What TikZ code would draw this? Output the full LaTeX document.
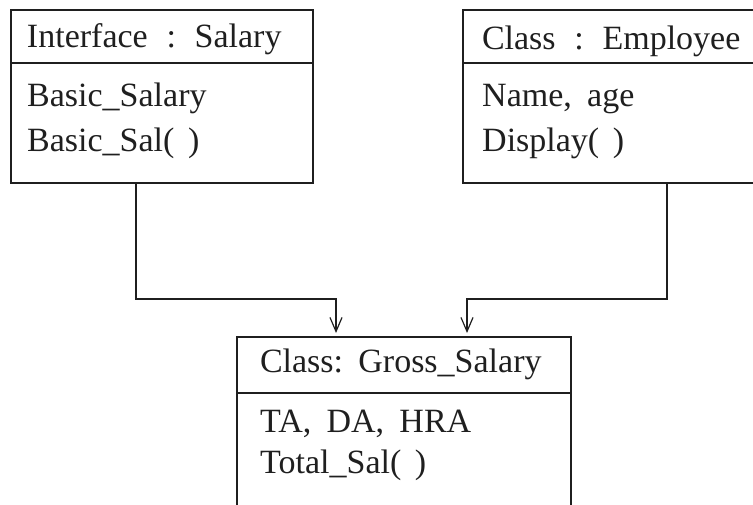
\documentclass[tikz,border=0pt]{standalone}
\usepackage{fontspec}
\setmainfont{Liberation Serif}
\usetikzlibrary{arrows.meta, positioning}

\begin{document}
\begin{tikzpicture}[
    x=1pt, y=1pt,
    font=\fontsize{34}{40}\selectfont,
    every node/.style={text=black!88},
    classhead/.style={rectangle, draw=black!88, line width=1.2pt, outer sep=0pt, inner ysep=0pt, anchor=north west, align=left},
    classbody/.style={rectangle, draw=black!88, line width=1.2pt, outer sep=0pt, inner sep=0pt},
    member/.style={anchor=base west, inner sep=0pt},
    link/.style={draw=black!88, line width=1.2pt, -{Straight Barb[length=14pt, width=12pt, line width=1.2pt]}, shorten >=4pt}
]
\path[use as bounding box, clip] (0,0) rectangle (753,-504);

\node (salhead) [classhead, inner xsep=16pt, text width=270pt, text height=37pt, text depth=16pt] at (11,-10) {Interface\hspace{0.55em}:\hspace{0.55em}Salary};
\node (salbody) [classbody, below=0pt of salhead, minimum width=302pt, minimum height=120pt] {};
\node (salattr) [member] at ([shift={(16,-43)}]salbody.north west) {Basic\_Salary};
\node (salop) [member] at ([shift={(16,-88)}]salbody.north west) {Basic\_Sal(\hspace{0.4em})};

\node (emphead) [classhead, inner xsep=19pt, text width=282pt, text height=39pt, text depth=14pt] at (463,-10) {Class\hspace{0.55em}:\hspace{0.55em}Employee};
\node (empbody) [classbody, below=0pt of emphead, minimum width=320pt, minimum height=120pt] {};
\node (empattr) [member] at ([shift={(19,-43)}]empbody.north west) {Name,\hspace{0.45em}age};
\node (empop) [member] at ([shift={(19,-88)}]empbody.north west) {Display(\hspace{0.4em})};

\node (grosshead) [classhead, inner xsep=23pt, text width=288pt, text height=35pt, text depth=21pt] at (237,-337) {Class:\hspace{0.45em}Gross\_Salary};
\node (grossbody) [classbody, below=0pt of grosshead, minimum width=334pt, minimum height=130pt] {};
\node (grossattr) [member] at ([shift={(23,-39)}]grossbody.north west) {TA,\hspace{0.45em}DA,\hspace{0.45em}HRA};
\node (grossop) [member] at ([shift={(23,-80)}]grossbody.north west) {Total\_Sal(\hspace{0.4em})};

\draw [link] ([xshift=-26pt]salbody.south) -- ++(0,-116) -| ([xshift=-68pt]grosshead.north);
\draw [link] ([xshift=44pt]empbody.south) -- ++(0,-116) -| ([xshift=63pt]grosshead.north);
\end{tikzpicture}
\end{document}
